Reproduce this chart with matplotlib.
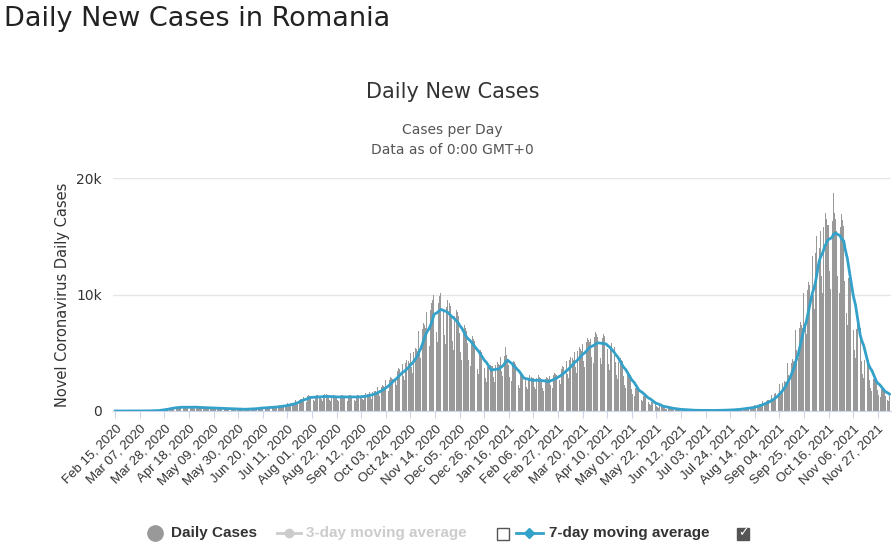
import datetime as dt
import matplotlib
matplotlib.use("Agg")
import matplotlib.pyplot as plt
import pandas as pd

START = dt.date(2020, 2, 15)

# daily new cases, in hundreds, one row per week (Sat..Fri) starting Feb 15, 2020
WEEKS = [
    [0, 0, 0, 0, 0, 0, 0], [0, 0, 0, 0, 0, 0, 0], [0, 0, 0, 0, 0, 0.1, 0],
    [0, 0, 0.1, 0, 0.1, 0.1, 0.1], [0.1, 0.2, 0.1, 0.2, 0.3, 0.3, 0.3],
    [0.6, 0.5, 0.4, 1.0, 0.9, 1.2, 1.3], [1.9, 1.5, 1.4, 2.4, 2.5, 2.6, 2.9],
    [3.2, 2.6, 2.2, 3.2, 3.6, 3.5, 3.4], [3.6, 2.8, 2.6, 3.3, 3.5, 3.3, 3.4],
    [3.8, 2.6, 2.8, 3.7, 3.6, 3.4, 3.2], [3.3, 2.4, 2.3, 3.0, 3.4, 3.1, 3.1],
    [3.0, 2.3, 2.0, 2.8, 2.9, 2.9, 2.7], [2.5, 1.9, 1.7, 2.4, 2.5, 2.5, 2.4],
    [2.1, 1.6, 1.4, 2.1, 2.2, 2.1, 2.1], [1.8, 1.4, 1.3, 1.8, 1.9, 1.8, 1.8],
    [1.6, 1.2, 1.1, 1.6, 1.7, 1.6, 1.6], [1.9, 1.5, 1.3, 1.9, 2.0, 2.0, 2.0],
    [2.6, 2.0, 1.8, 2.7, 2.9, 2.8, 2.8], [3.2, 2.4, 2.1, 3.2, 3.4, 3.3, 3.4],
    [3.8, 2.8, 2.5, 3.7, 4.0, 4.0, 4.0], [4.8, 3.6, 3.2, 4.8, 5.2, 5.0, 5.2],
    [6.5, 4.8, 4.2, 6.5, 7.0, 7.0, 6.8], [9.5, 7.2, 6.2, 9.8, 10.5, 10.5, 10.2],
    [12.3, 9.2, 8.0, 12.5, 13.5, 13.2, 12.8], [12.8, 9.5, 8.5, 13.0, 14.0, 13.5, 13.2],
    [13.3, 10.0, 8.8, 13.5, 14.5, 14.2, 13.8], [12.8, 9.6, 8.4, 13.0, 14.0, 13.5, 13.2],
    [12.8, 9.6, 8.4, 13.0, 14.0, 13.5, 13.2], [12.9, 9.5, 8.3, 13.1, 13.8, 13.6, 13.0],
    [12.7, 9.7, 8.5, 12.9, 14.1, 13.4, 13.3], [13.8, 10.4, 9.1, 14.0, 15.2, 14.6, 14.2],
    [16.0, 12.0, 10.5, 16.3, 17.5, 17.0, 16.5], [20.2, 15.1, 13.2, 20.5, 22.0, 21.5, 20.8],
    [26.5, 19.8, 17.4, 27.0, 29.0, 28.2, 27.5], [34.0, 25.5, 22.3, 34.5, 37.0, 36.0, 35.0],
    [40.2, 30.2, 26.5, 41.0, 44.0, 42.8, 41.5], [50.0, 37.5, 32.8, 51.0, 54.5, 53.0, 51.5],
    [69.0, 52.0, 45.5, 70.5, 75.5, 73.5, 71.5], [85.0, 63.8, 55.8, 86.5, 92.5, 95.0, 100.0],
    [90.5, 68.0, 59.5, 92.5, 99.0, 101.0, 98.0], [87.0, 65.5, 57.2, 89.0, 95.0, 93.0, 90.0],
    [80.0, 60.0, 52.5, 81.5, 87.0, 85.0, 82.0], [67.0, 50.5, 44.0, 68.5, 73.5, 71.5, 69.0],
    [58.5, 44.0, 38.5, 60.0, 64.0, 62.0, 60.0], [48.0, 36.0, 31.5, 49.0, 52.5, 51.0, 49.5],
    [37.0, 28.0, 24.5, 38.0, 40.5, 39.5, 38.5], [38.5, 29.0, 25.2, 39.2, 42.0, 40.5, 39.5],
    [46.0, 34.5, 30.2, 47.0, 55.0, 48.0, 45.0], [39.5, 29.5, 26.0, 40.5, 43.0, 42.0, 40.5],
    [30.0, 22.5, 19.5, 30.5, 32.5, 31.5, 31.0], [28.0, 21.0, 18.5, 28.5, 30.5, 29.5, 28.5],
    [28.0, 21.0, 18.5, 28.5, 30.5, 29.5, 28.5], [26.8, 20.0, 17.5, 27.3, 29.2, 28.5, 27.5],
    [30.0, 22.5, 19.6, 30.5, 32.8, 32.0, 30.8], [35.3, 26.5, 23.2, 36.0, 38.5, 37.5, 36.2],
    [42.8, 32.0, 28.0, 43.8, 46.8, 45.5, 44.0], [50.3, 37.8, 33.0, 51.3, 55.0, 53.5, 51.8],
    [57.8, 43.3, 38.0, 59.0, 63.0, 61.3, 59.5], [62.0, 46.5, 40.8, 63.3, 67.8, 65.8, 63.8],
    [61.0, 45.8, 40.0, 62.3, 66.5, 64.8, 62.8], [53.5, 40.0, 35.0, 54.5, 58.5, 56.8, 55.0],
    [41.8, 31.2, 27.3, 42.5, 45.5, 44.2, 43.0], [30.0, 22.5, 19.6, 30.5, 32.8, 31.9, 30.8],
    [19.3, 14.4, 12.6, 19.6, 21.0, 20.5, 19.8], [12.8, 9.6, 8.4, 13.0, 14.0, 13.6, 13.2],
    [7.5, 5.6, 4.9, 7.6, 8.2, 8.0, 7.7], [4.3, 3.2, 2.8, 4.4, 4.7, 4.6, 4.4],
    [2.7, 2.0, 1.8, 2.7, 2.9, 2.8, 2.7], [1.6, 1.2, 1.1, 1.6, 1.7, 1.7, 1.6],
    [1.0, 0.7, 0.6, 1.0, 1.0, 1.0, 1.0], [0.6, 0.5, 0.4, 0.6, 0.7, 0.7, 0.6],
    [0.5, 0.4, 0.3, 0.5, 0.6, 0.6, 0.5], [0.5, 0.4, 0.3, 0.5, 0.6, 0.6, 0.5],
    [0.6, 0.5, 0.4, 0.6, 0.7, 0.7, 0.6], [0.9, 0.6, 0.6, 0.9, 0.9, 0.9, 0.8],
    [1.3, 1.0, 0.8, 1.3, 1.4, 1.4, 1.3], [2.1, 1.6, 1.4, 2.2, 2.3, 2.3, 2.1],
    [3.2, 2.4, 2.1, 3.3, 3.5, 3.4, 3.3], [5.4, 4.0, 3.5, 5.5, 5.9, 5.7, 5.5],
    [8.6, 6.4, 5.6, 8.8, 9.4, 9.1, 8.9], [13.9, 10.4, 9.1, 14.2, 15.2, 14.8, 14.3],
    [23.5, 17.6, 15.4, 24.0, 25.7, 25.0, 24.2], [40.8, 30.5, 26.7, 41.5, 44.5, 43.2, 41.8],
    [69.5, 52.0, 45.5, 71.0, 76.0, 73.8, 71.5], [101.5, 76.0, 66.5, 103.5, 111.0, 108.0, 104.5],
    [133.5, 100.0, 87.5, 136.0, 150.0, 153.0, 140.0], [155.0, 116.0, 101.5, 158.0, 170.0, 165.0, 160.0],
    [160.0, 120.0, 105.0, 163.0, 187.0, 170.0, 165.0], [155.0, 116.0, 101.5, 158.0, 169.0, 164.0, 159.0],
    [112.0, 84.0, 73.5, 114.5, 122.5, 119.0, 115.0], [69.5, 52.0, 45.5, 70.5, 75.5, 73.5, 71.5],
    [42.8, 32.0, 28.0, 43.5, 46.5, 45.2, 43.8], [26.8, 20.0, 17.5, 27.2, 29.2, 28.2, 27.5],
    [18.2, 13.6, 11.9, 18.5, 19.8, 19.2, 18.7], [12.8, 9.6, 8.4, 13.0],
]

cases = pd.Series([v * 100 for w in WEEKS for v in w])
avg7 = cases.rolling(7, min_periods=1).mean()
days = range(len(cases))
tick_days = list(range(0, len(cases), 21))
tick_labels = [(START + dt.timedelta(days=d)).strftime("%b %d, %Y") for d in tick_days]

W, H = 896, 548


def fx(px):
    return px / W


def fy(py):
    return 1 - py / H


fig = plt.figure(figsize=(8.96, 5.48), dpi=100)
ax = fig.add_axes([0.126, 0.25, 0.868, 0.425])

ax.bar(days, cases, width=0.8, color="#999999", zorder=2)
ax.plot(days, avg7, color="#33a1c9", lw=2, zorder=3)

ax.set_xlim(-2, len(cases))
ax.set_ylim(0, 20000)
ax.set_yticks([0, 10000, 20000])
ax.set_yticklabels(["0", "10k", "20k"], fontsize=10, color="#333333")
ax.set_xticks(tick_days)
ax.set_xticklabels(tick_labels, rotation=45, ha="right", rotation_mode="anchor",
                   fontsize=9.5, color="#333333", family="Liberation Sans")
ax.tick_params(axis="y", length=0, pad=8)
ax.tick_params(axis="x", length=5, color="#ccd6eb")
ax.grid(axis="y", color="#e6e6e6", lw=1, zorder=0)
for s in ("top", "right", "left"):
    ax.spines[s].set_visible(False)
ax.spines["bottom"].set_color("#ccd6eb")
ax.set_ylabel("Novel Coronavirus Daily Cases", fontsize=10.5, color="#333333")

fig.text(0.004, 0.965, "Daily New Cases in Romania", fontsize=19.5, color="#222222", va="center")
fig.text(0.505, 0.832, "Daily New Cases", fontsize=15, color="#333333", ha="center", va="center")
fig.text(0.505, 0.763, "Cases per Day", fontsize=10, color="#555555", ha="center", va="center")
fig.text(0.505, 0.727, "Data as of 0:00 GMT+0", fontsize=10, color="#555555", ha="center", va="center")

# legend row
ly = fy(533)
lf = dict(fontsize=11, fontweight="bold", va="center", family="Liberation Sans")
fig.lines.append(plt.Line2D([fx(155)], [ly], marker="o", ms=11, color="#999999",
                            transform=fig.transFigure))
fig.text(fx(171), ly, "Daily Cases", color="#333333", **lf)
fig.lines.append(plt.Line2D([fx(277), fx(301)], [ly] * 2, color="#cccccc", lw=2,
                            transform=fig.transFigure))
fig.lines.append(plt.Line2D([fx(289)], [ly], marker="o", ms=6, color="#cccccc",
                            transform=fig.transFigure))
fig.text(fx(306), ly, "3-day moving average", color="#cccccc", **lf)
for bx, checked in ((503, False), (743, True)):
    fig.patches.append(plt.Rectangle((fx(bx - 6), ly - 0.012), fx(12), 0.022, fill=checked,
                                     facecolor="#555555", edgecolor="#555555", lw=1,
                                     transform=fig.transFigure))
    if checked:
        fig.text(fx(bx), ly, "✓", fontsize=9, color="white", ha="center", va="center")
fig.lines.append(plt.Line2D([fx(516), fx(543)], [ly] * 2, color="#33a1c9", lw=2,
                            transform=fig.transFigure))
fig.lines.append(plt.Line2D([fx(529)], [ly], marker="D", ms=5, color="#33a1c9",
                            transform=fig.transFigure))
fig.text(fx(549), ly, "7-day moving average", color="#333333", **lf)

fig.savefig("out.png", dpi=100)
